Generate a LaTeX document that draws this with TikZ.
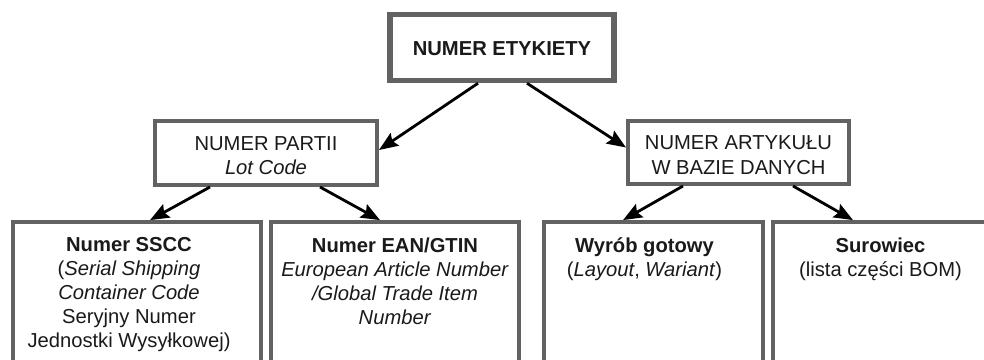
\documentclass[tikz,border=0pt]{standalone}
\usepackage{fontspec}
\setmainfont{Liberation Sans}
\usetikzlibrary{arrows.meta}
\definecolor{frame}{HTML}{626262}
\definecolor{ink}{HTML}{1A1A1A}
\tikzset{
  basefont/.style={font=\fontsize{20.2}{24}\selectfont, text=ink},
  rootbox/.style={draw=frame, line width=5.5pt, fill=white, inner sep=0pt,
    basefont, font=\fontsize{20.2}{24}\selectfont\bfseries, align=center},
  midbox/.style={draw=frame, line width=4pt, fill=white, inner sep=0pt,
    basefont, font=\fontsize{20.2}{24.5}\selectfont, align=center},
  leafbox/.style={draw=frame, line width=3.8pt, fill=white, inner sep=0pt,
    minimum height=200pt},
  leaftext/.style={basefont, align=center, inner sep=0pt, anchor=north},
  arr/.style={draw=black, line width=2.8pt,
    -{Stealth[length=19pt,width=15pt,inset=3pt]}}
}
\newcommand{\lift}{\rule{0pt}{19pt}}
\begin{document}
\begin{tikzpicture}[x=1pt,y=-1pt]
  \useasboundingbox (0,0) rectangle (984,359);
  \clip (0,0) rectangle (984,359);
  \fill[white] (0,0) rectangle (984,359);

  % top level
  \node[rootbox, minimum width=224pt, minimum height=66pt] (etk) at (502,47.5)
    {\rule{0pt}{17pt}NUMER ETYKIETY};

  % second level
  \node[midbox, minimum width=222pt, minimum height=64pt] (partii) at (266,153)
    {\lift NUMER PARTII\\\textit{Lot Code}};
  \node[midbox, minimum width=221pt, minimum height=63pt] (artykul) at (738.5,152.5)
    {\lift NUMER ARTYKUŁU\\W BAZIE DANYCH};

  % third level (boxes run past the lower edge)
  \node[leafbox, minimum width=248pt] (sscc)  at (137,322) {};
  \node[leafbox, minimum width=248pt] (ean)   at (395,322) {};
  \node[leafbox, minimum width=219pt] (wyrob) at (653.5,322) {};
  \node[leafbox, minimum width=215pt] (surow) at (880.5,322) {};

  \node[leaftext] (ssccT) at ([xshift=-8pt,yshift=-17.5pt]sscc.north)
    {\textbf{Numer SSCC}\\(\textit{Serial Shipping}\\\textit{Container Code}\\Seryjny Numer\\Jednostki Wysyłkowej)};
  \node[leaftext] (eanT) at ([yshift=-17.5pt]ean.north)
    {\textbf{Numer EAN/GTIN}\\\textit{European Article Number}\\\textit{/Global Trade Item}\\\textit{Number}};
  \node[leaftext] (wyrobT) at ([xshift=-9pt,yshift=-17.5pt]wyrob.north)
    {\textbf{Wyrób gotowy}\\(\textit{Layout}, \textit{Wariant})};
  \node[leaftext] (surowT) at ([yshift=-17.5pt]surow.north)
    {\textbf{Surowiec}\\(lista części BOM)};

  % connectors
  \draw[arr] ([xshift=-24pt]etk.south) -- ([yshift=3pt]partii.east);
  \draw[arr] ([xshift=25pt]etk.south) -- ([yshift=5pt]artykul.west);
  \draw[arr] ([xshift=-56pt]partii.south) -- ([xshift=13pt]sscc.north);
  \draw[arr] ([xshift=54pt]partii.south) -- ([xshift=-15pt]ean.north);
  \draw[arr] ([xshift=-55.5pt]artykul.south) -- ([xshift=-30.5pt]wyrob.north);
  \draw[arr] ([xshift=54.5pt]artykul.south) -- ([xshift=-27.5pt]surow.north);
\end{tikzpicture}
\end{document}
